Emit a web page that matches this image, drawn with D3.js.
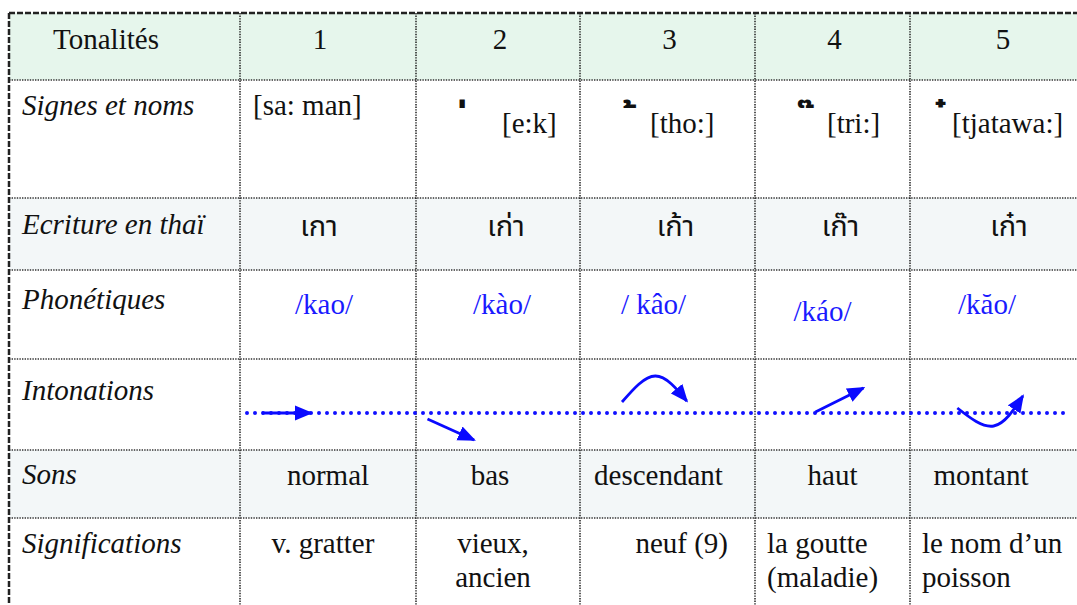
<!DOCTYPE html>
<html>
<head>
<meta charset="utf-8">
<script src="https://cdn.jsdelivr.net/npm/d3@7"></script>
<style>
  body { margin: 0; background: #fff; }
  svg { display: block; }
  .serif { font-family: "Liberation Serif", "Times New Roman", serif; font-size: 29px; fill: #111; }
  .label { font-style: italic; }
  .thai { font-family: "Noto Sans Thai", "Tahoma", "Noto Sans", "DejaVu Sans", sans-serif; font-size: 29px; fill: #111; }
  .mark { font-size: 38px; font-weight: bold; }
  .phon { fill: #1a1aff; }
</style>
</head>
<body>
<div id="container"></div>
<script>
const width = 1077;
const height = 605;

// table content
const headerLabel = "Tonalités";
const tones = ["1", "2", "3", "4", "5"];
const rowLabels = ["Signes et noms", "Ecriture en thaï", "Phonétiques", "Intonations", "Sons", "Significations"];
const signMarks = ["", "\u0E48", "\u0E49", "\u0E4A", "\u0E4B"];
const signNames = ["[sa: man]", "[e:k]", "[tho:]", "[tri:]", "[tjatawa:]"];
const thaiWords = ["เกา", "เก่า", "เก้า", "เก๊า", "เก๋า"];
const phonetics = ["/kao/", "/kào/", "/ kâo/", "/káo/", "/kăo/"];
const sounds = ["normal", "bas", "descendant", "haut", "montant"];
const meanings = [["v. gratter"], ["vieux,", "ancien"], ["neuf (9)"], ["la goutte", "(maladie)"], ["le nom d\u2019un", "poisson"]];

// pitch contours: [position in cell (0..1), pitch relative to the mid line]
const contours = [
  [[0.125, 0], [0.403, 0]],
  [[0.07, -6], [0.354, -27]],
  [[0.24, 11], [0.43, 37], [0.61, 12]],
  [[0.39, 1], [0.70, 25]],
  [[0.26, 5], [0.46, -13], [0.62, 17]]
];

// layout
const colEdges = [9, 240, 416, 580, 755, 910, 1092];
const rowEdges = [13, 80, 198, 270, 359, 450, 518, 620];
const rowFill = ["#e6f6ec", "#fff", "#f3f7f8", "#fff", "#fff", "#f3f7f8", "#fff"];

const svg = d3.select("#container")
  .append("svg")
  .attr("width", width)
  .attr("height", height)
  .attr("viewBox", [0, 0, width, height]);

const colLeft = i => colEdges[i + 1];
const colRight = i => colEdges[i + 2];
const colMid = i => (colLeft(i) + colRight(i)) / 2;

// row backgrounds
svg.append("g").selectAll("rect")
  .data(rowFill)
  .join("rect")
  .attr("x", colEdges[0])
  .attr("y", (d, i) => rowEdges[i])
  .attr("width", colEdges[colEdges.length - 1] - colEdges[0])
  .attr("height", (d, i) => rowEdges[i + 1] - rowEdges[i])
  .attr("fill", d => d);

// grid lines
const grid = svg.append("g")
  .attr("fill", "none");

grid.selectAll("line.h")
  .data(rowEdges.slice(1, -1))
  .join("line")
  .attr("class", "h")
  .attr("x1", colEdges[0]).attr("x2", width)
  .attr("y1", d => d).attr("y2", d => d)
  .attr("stroke", "#333")
  .attr("stroke-width", 1.4)
  .attr("stroke-dasharray", "1.4 1.2");

grid.selectAll("line.v")
  .data(colEdges.slice(1, -1))
  .join("line")
  .attr("class", "v")
  .attr("x1", d => d).attr("x2", d => d)
  .attr("y1", rowEdges[0]).attr("y2", height)
  .attr("stroke", "#111")
  .attr("stroke-width", 1.4)
  .attr("stroke-dasharray", "1.4 1.2");

// outer frame: thick dashes top and left
grid.append("line")
  .attr("x1", colEdges[0]).attr("x2", width)
  .attr("y1", rowEdges[0]).attr("y2", rowEdges[0])
  .attr("stroke", "#222").attr("stroke-width", 2.5)
  .attr("stroke-dasharray", "6 2");
grid.append("line")
  .attr("x1", colEdges[0]).attr("x2", colEdges[0])
  .attr("y1", rowEdges[0]).attr("y2", height)
  .attr("stroke", "#222").attr("stroke-width", 2.5)
  .attr("stroke-dasharray", "6 2");

// header row
svg.append("text")
  .attr("class", "serif")
  .attr("x", 106).attr("y", 49)
  .attr("text-anchor", "middle")
  .text(headerLabel);

svg.append("g").selectAll("text")
  .data(tones)
  .join("text")
  .attr("class", "serif")
  .attr("x", (d, i) => colMid(i) + (i === 0 ? -8 : 2))
  .attr("y", 49)
  .attr("text-anchor", "middle")
  .text(d => d);

// row labels
const labelBase = [115, 234, 309, 400, 484, 553];
svg.append("g").selectAll("text")
  .data(rowLabels)
  .join("text")
  .attr("class", "serif label")
  .attr("x", 22)
  .attr("y", (d, i) => labelBase[i])
  .text(d => d);

// signs and names
const nameOffset = [13, 86, 70, 72, 42];
const markOffset = [0, 52, 58, 60, 38];
const nameBase = [115, 133, 133, 133, 133];
svg.append("g").selectAll("text")
  .data(signNames)
  .join("text")
  .attr("class", "serif")
  .attr("x", (d, i) => colLeft(i) + nameOffset[i])
  .attr("y", (d, i) => nameBase[i])
  .text(d => d);

svg.append("g").selectAll("text")
  .data(signMarks.map((m, i) => ({ m, i })).filter(d => d.m))
  .join("text")
  .attr("class", "thai mark")
  .attr("x", d => colLeft(d.i) + markOffset[d.i])
  .attr("y", 131)
  .text(d => d.m);

// thai writing
svg.append("g").selectAll("text")
  .data(thaiWords)
  .join("text")
  .attr("class", "thai")
  .attr("x", (d, i) => colMid(i) + (i === 0 ? -9 : 8))
  .attr("y", 236)
  .attr("text-anchor", "middle")
  .text(d => d);

// phonetics
const phonShift = [-4, 4, -14, -10, -14];
svg.append("g").selectAll("text")
  .data(phonetics)
  .join("text")
  .attr("class", "serif phon")
  .attr("x", (d, i) => colMid(i) + phonShift[i])
  .attr("y", (d, i) => i === 3 ? 321 : 314)
  .attr("text-anchor", "middle")
  .text(d => d);

// intonations
const midY = 413;
const pitch = d3.scaleLinear().domain([-40, 40]).range([midY + 40, midY - 40]);

const defs = svg.append("defs");
defs.append("marker")
  .attr("id", "head")
  .attr("viewBox", "0 -8 18 16")
  .attr("markerUnits", "userSpaceOnUse")
  .attr("markerWidth", 18)
  .attr("markerHeight", 16)
  .attr("refX", 16)
  .attr("refY", 0)
  .attr("orient", "auto")
  .append("path")
  .attr("d", "M0,-7.5L18,0L0,7.5Z")
  .attr("fill", "#0a0aff");

svg.append("line")
  .attr("x1", 247).attr("x2", 1067)
  .attr("y1", midY).attr("y2", midY)
  .attr("stroke", "#1010ff")
  .attr("stroke-width", 4)
  .attr("stroke-linecap", "round")
  .attr("stroke-dasharray", "0 8");

const contourLine = d3.line().curve(d3.curveNatural);
svg.append("g").selectAll("path")
  .data(contours)
  .join("path")
  .attr("d", (pts, i) => {
    const x = d3.scaleLinear().range([colLeft(i), colRight(i)]);
    return contourLine(pts.map(([t, p]) => [x(t), pitch(p)]));
  })
  .attr("fill", "none")
  .attr("stroke", "#0a0aff")
  .attr("stroke-width", 2.8)
  .attr("marker-end", "url(#head)");

// sounds
const soundShift = [0, -8, -9, 0, -20];
svg.append("g").selectAll("text")
  .data(sounds)
  .join("text")
  .attr("class", "serif")
  .attr("x", (d, i) => colMid(i) + soundShift[i])
  .attr("y", 485)
  .attr("text-anchor", "middle")
  .text(d => d);

// meanings
const meanAnchor = ["middle", "middle", "end", "start", "start"];
const meanX = i => meanAnchor[i] === "middle" ? colMid(i) - 5
  : meanAnchor[i] === "end" ? colRight(i) - 27 : colLeft(i) + 12;
const meaningCells = svg.append("g").selectAll("text")
  .data(meanings)
  .join("text")
  .attr("class", "serif")
  .attr("text-anchor", (d, i) => meanAnchor[i]);
meaningCells.selectAll("tspan")
  .data((d, i) => d.map(line => ({ line, i })))
  .join("tspan")
  .attr("x", d => meanX(d.i))
  .attr("y", (d, j) => 553 + j * 34)
  .text(d => d.line);
</script>
</body>
</html>
